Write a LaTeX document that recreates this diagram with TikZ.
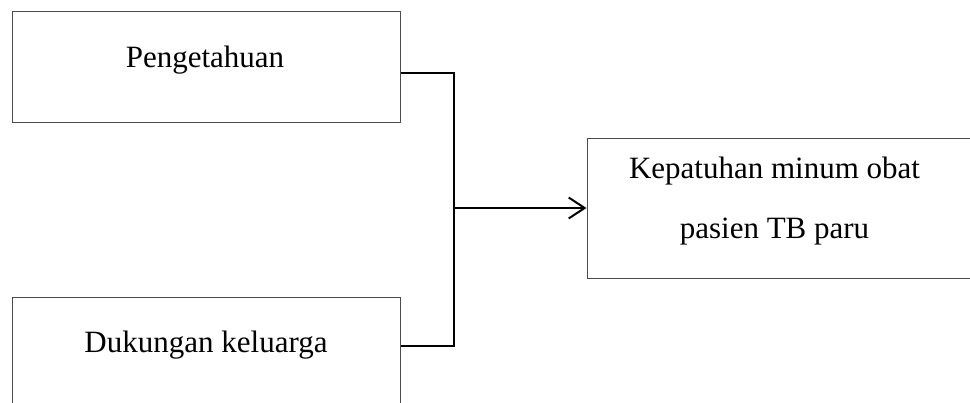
\documentclass[tikz,border=0pt]{standalone}
\usepackage{fontspec}
\setmainfont{Liberation Serif}
\usetikzlibrary{calc,arrows.meta}
\tikzset{
  kotak/.style={draw=black!70, line width=0.5pt, rectangle, inner sep=0pt},
  teks/.style={anchor=base, inner sep=0pt, font=\fontsize{15.5}{18}\selectfont},
  garis/.style={draw=black, line width=1pt},
}
\begin{document}
\begin{tikzpicture}[x=0.5pt, y=-0.5pt, >={Straight Barb[length=8pt,width=10.5pt]}]
\useasboundingbox (0,0) rectangle (970,402);
% kotak
\node[kotak, minimum width=194pt, minimum height=55.5pt] (pen) at (206,66.5) {};
\node[kotak, minimum width=194pt, minimum height=55.5pt] (duk) at (206,352.5) {};
\node[kotak, minimum width=199pt, minimum height=70pt] (kep) at (786,208) {};
% teks
\node[teks] (pentxt) at (205,67) {Pengetahuan};
\node[teks] (duktxt) at (206,352) {Dukungan keluarga};
\node[teks] (keptxt1) at (774.5,178) {Kepatuhan minum obat};
\node[teks] (keptxt2) at (774.5,238) {pasien TB paru};
% garis
\coordinate (jn) at (454,208);
\draw[garis] ($(pen.east)+(0,6.5)$) -| (jn) |- ($(duk.east)+(0,-6.5)$);
\draw[garis,->] (jn) -- (kep.west);
\end{tikzpicture}
\end{document}
